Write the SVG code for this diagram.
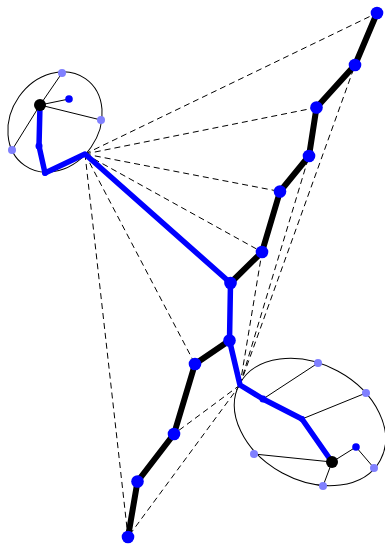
<svg xmlns="http://www.w3.org/2000/svg" width="385" height="544" viewBox="0 0 385 544">
<style>
.dash{stroke:#000;stroke-width:1;stroke-dasharray:6 4;fill:none}
.thin{stroke:#000;stroke-width:1;fill:none}
.blk{stroke:#000;stroke-width:6;fill:none;stroke-linecap:round;stroke-linejoin:round}
.blu{stroke:#0000ff;stroke-width:5.5;fill:none;stroke-linecap:round;stroke-linejoin:round}
.big{fill:#0000ff}
.lite{fill:#8080ff}
.dark{fill:#000}
</style>
<rect width="385" height="544" fill="#fff"/>
<g id="clusters">
<ellipse id="leftCluster" cx="55" cy="122" rx="53" ry="44" transform="rotate(125 55 122)" class="thin"/>
<ellipse id="rightCluster" cx="310" cy="422" rx="80" ry="58" transform="rotate(28.5 310 422)" class="thin"/>
</g>
<g id="connectors">
<g id="dashed">
<line class="dash" x1="85" y1="154" x2="377" y2="13"/>
<line class="dash" x1="85" y1="154" x2="316.5" y2="107.5"/>
<line class="dash" x1="85" y1="154" x2="280" y2="191.5"/>
<line class="dash" x1="85" y1="154" x2="262" y2="252"/>
<line class="dash" x1="85" y1="154" x2="195" y2="364"/>
<line class="dash" x1="85" y1="154" x2="128" y2="537"/>
<line class="dash" x1="240" y1="385" x2="355" y2="65"/>
<line class="dash" x1="240" y1="385" x2="309" y2="156"/>
<line class="dash" x1="240" y1="385" x2="262" y2="252"/>
<line class="dash" x1="240" y1="385" x2="174" y2="434"/>
<line class="dash" x1="240" y1="385" x2="128" y2="537"/>
</g>
<g id="thinEdges">
<line class="thin" x1="40" y1="105" x2="62" y2="73"/>
<line class="thin" x1="40" y1="105" x2="69" y2="99"/>
<line class="thin" x1="40" y1="105" x2="101" y2="120"/>
<line class="thin" x1="40" y1="105" x2="12" y2="150"/>
<line class="thin" x1="263" y1="399" x2="318" y2="363"/>
<line class="thin" x1="302" y1="419" x2="366" y2="393"/>
<line class="thin" x1="254" y1="454" x2="332" y2="462"/>
<line class="thin" x1="332" y1="462" x2="323" y2="486"/>
<line class="thin" x1="332" y1="462" x2="356" y2="447"/>
<line class="thin" x1="356" y1="447" x2="374" y2="468"/>
</g>
<polyline id="blackPathTop" class="blk" points="377,13 355,65 316.5,107.5 309,156 280,191.5 262,252 230.5,283"/>
<polyline id="blackPathBottom" class="blk" points="229.5,340.5 195,364 174,434 137.5,481.5 128,537"/>
<polyline id="bluePathLeft" class="blu" points="40,105 39,146 45,173 85,154 230.5,283 229.5,340.5 240,385 263,399 302,419 332,462"/>
</g>
<g id="nodeA"><circle class="big" cx="377" cy="13" r="6.3"/></g>
<g id="nodeB"><circle class="big" cx="355" cy="65" r="6.3"/></g>
<g id="nodeC"><circle class="big" cx="316.5" cy="107.5" r="6.3"/></g>
<g id="nodeD"><circle class="big" cx="309" cy="156" r="6.3"/></g>
<g id="nodeE"><circle class="big" cx="280" cy="191.5" r="6.3"/></g>
<g id="nodeF"><circle class="big" cx="262" cy="252" r="6.3"/></g>
<g id="nodeG"><circle class="big" cx="230.5" cy="283" r="6.3"/></g>
<g id="nodeH"><circle class="big" cx="229.5" cy="340.5" r="6.3"/></g>
<g id="nodeI"><circle class="big" cx="195" cy="364" r="6.3"/></g>
<g id="nodeJ"><circle class="big" cx="174" cy="434" r="6.3"/></g>
<g id="nodeK"><circle class="big" cx="137.5" cy="481.5" r="6.3"/></g>
<g id="nodeL"><circle class="big" cx="128" cy="537" r="6.3"/></g>
<g id="leftRoot"><circle class="dark" cx="40" cy="105" r="6"/></g>
<g id="leftA"><circle class="big" cx="69" cy="99" r="3.8"/></g>
<g id="leftB"><circle class="lite" cx="62" cy="73" r="4"/></g>
<g id="leftC"><circle class="lite" cx="101" cy="120" r="4"/></g>
<g id="leftD"><circle class="lite" cx="12" cy="150" r="4"/></g>
<g id="leftE"><circle class="big" cx="39" cy="146" r="3.5"/></g>
<g id="leftF"><circle class="big" cx="45" cy="173" r="3"/></g>
<g id="rightRoot"><circle class="dark" cx="332" cy="462" r="6"/></g>
<g id="rightA"><circle class="big" cx="356" cy="447" r="3.8"/></g>
<g id="rightB"><circle class="big" cx="263" cy="399" r="3.5"/></g>
<g id="rightC"><circle class="big" cx="302" cy="419" r="3"/></g>
<g id="rightD"><circle class="lite" cx="318" cy="363" r="4"/></g>
<g id="rightE"><circle class="lite" cx="366" cy="393" r="4"/></g>
<g id="rightF"><circle class="lite" cx="254" cy="454" r="4"/></g>
<g id="rightG"><circle class="lite" cx="374" cy="468" r="4"/></g>
<g id="rightH"><circle class="lite" cx="323" cy="486" r="4"/></g>
</svg>
